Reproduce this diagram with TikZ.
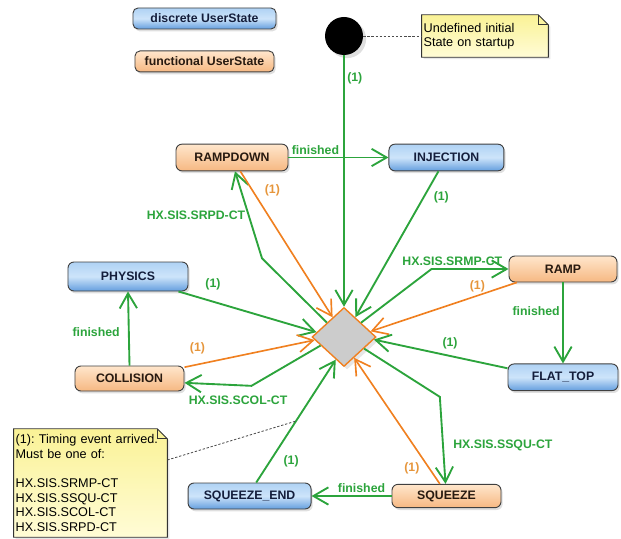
\documentclass[tikz,border=0pt]{standalone}
\usepackage{fontspec}
\setmainfont{Liberation Sans}
\usepackage{tikz}
\usetikzlibrary{arrows.meta,positioning,shapes.geometric,shadows,backgrounds}

\definecolor{trgreen}{RGB}{44,164,60}
\definecolor{trorange}{RGB}{240,128,32}
\definecolor{lborange}{RGB}{230,150,60}
\definecolor{bluetop}{RGB}{175,210,244}
\definecolor{bluemid}{RGB}{205,228,250}
\definecolor{bluebot}{RGB}{100,158,222}
\definecolor{orgtop}{RGB}{255,230,204}
\definecolor{orgbot}{RGB}{246,184,130}
\definecolor{notetop}{RGB}{250,242,150}
\definecolor{notebot}{RGB}{255,252,214}
\definecolor{navy}{RGB}{20,30,60}
\definecolor{darkbrown}{RGB}{40,26,16}

\begin{document}
\begin{tikzpicture}[x=0.03cm, y=-0.03cm, font=\fontsize{10.5}{12}\selectfont\bfseries,
  ustate/.style={draw=black!75, line width=0.8pt, rounded corners=1.8mm, minimum height=0.8cm, inner sep=2pt,
    drop shadow={opacity=0.25, shadow xshift=0.5mm, shadow yshift=-0.7mm}},
  discr/.style={ustate, top color=bluetop, bottom color=bluebot, middle color=bluemid, text=navy},
  func/.style={ustate, top color=orgtop, bottom color=orgbot, text=darkbrown},
  gr/.style={draw=trgreen, line width=1.6pt, -{Straight Barb[length=4.5mm, width=5.2mm]}},
  og/.style={draw=trorange, line width=1.4pt, -{Straight Barb[length=4.5mm, width=5.2mm]}},
  glab/.style={text=trgreen, inner sep=2pt},
  olab/.style={text=lborange, inner sep=2pt},
  notetext/.style={font=\fontsize{10.8}{12.4}\selectfont\mdseries\frenchspacing, align=left, inner sep=1.5pt},
  notefill/.style={draw=black!80, line width=0.8pt, top color=notetop, bottom color=notebot,
    drop shadow={opacity=0.2, shadow xshift=0.6mm, shadow yshift=-0.6mm}},
  notelink/.style={draw=black!70, line width=0.7pt, dash pattern=on 2pt off 1.5pt}
]
\useasboundingbox (0,0) rectangle (621,539);

% legend
\node[discr, minimum width=4.29cm, minimum height=0.63cm, rounded corners=1.5mm] (leg1) at (204.5,18.5) {discrete UserState};
\node[func, minimum width=4.17cm, minimum height=0.63cm, rounded corners=1.5mm, below=0.63cm of leg1] (leg2) {functional UserState};

% initial state and notes
\node[circle, fill=black, minimum size=1.14cm, inner sep=0pt, drop shadow={opacity=0.25}] (init) at (344,36) {};
\node[notetext, text width=3.68cm, minimum height=1.26cm] (n1) at (485,36) {Undefined initial\\State on startup};
\node[notetext, text width=4.49cm, minimum height=3.24cm] (n2) at (90.5,483) {(1): Timing event arrived.\\Must be one of:\\\mbox{}\\HX.SIS.SRMP-CT\\HX.SIS.SSQU-CT\\HX.SIS.SCOL-CT\\HX.SIS.SRPD-CT};
\begin{scope}[on background layer]
\path[notefill] (n1.south west) -- (n1.north west) -- ([xshift=-0.3cm]n1.north east) -- ([yshift=-0.3cm]n1.north east) -- (n1.south east) -- cycle;
\path[notefill] (n2.south west) -- (n2.north west) -- ([xshift=-0.3cm]n2.north east) -- ([yshift=-0.3cm]n2.north east) -- (n2.south east) -- cycle;
\end{scope}
\draw[black!80, line width=0.6pt] ([xshift=-0.3cm]n1.north east) |- ([yshift=-0.3cm]n1.north east);
\draw[black!80, line width=0.6pt] ([xshift=-0.3cm]n2.north east) |- ([yshift=-0.3cm]n2.north east);

% states
\node[diamond, draw=trorange, line width=1.2pt, fill=black!20, minimum width=1.92cm, minimum height=1.77cm, inner sep=0pt, drop shadow={opacity=0.2}] (dia) at (344,337) {};
\node[func, minimum width=3.36cm] (rd) at (232,157.5) {RAMPDOWN};
\node[discr, minimum width=3.45cm, right=3cm of rd] (inj) {INJECTION};
\node[discr, minimum width=3.6cm, minimum height=0.87cm] (phys) at (128,276.5) {PHYSICS};
\node[func, minimum width=3.27cm, minimum height=0.75cm] (coll) at (129.5,378.5) {COLLISION};
\node[func, minimum width=3.24cm, minimum height=0.78cm] (ramp) at (563,269) {RAMP};
\node[discr, minimum width=3.3cm, below=2.43cm of ramp] (flat) {FLAT\_TOP};
\node[func, minimum width=3.27cm, minimum height=0.7cm] (sq) at (446.5,496) {SQUEEZE};
\node[discr, minimum width=3.69cm, minimum height=0.78cm, left=2.4cm of sq] (sqe) {SQUEEZE\_END};

% transitions
\draw[notelink] (init.east) -- (n1.west);
\draw[gr] (init) -- node[glab, pos=0.09, right] {(1)} (dia.north);
\draw[gr] (rd.east) -- node[glab, pos=0.27, above] {finished} (inj.west);
\draw[gr] ([xshift=-0.24cm]inj.south) -- node[glab, pos=0.18, right=6pt] {(1)} (dia);
\draw[gr] (dia.140) -- ([shift={(0.9cm,-2.61cm)}]rd.south) -- node[glab, left] {HX.SIS.SRPD-CT} ([xshift=0.09cm]rd.south);
\draw[og] ([xshift=0.25cm]rd.south) -- node[olab, pos=0.13, right=8pt] {(1)} (dia.120);
\draw[gr] (dia.40) -- ([xshift=-2.31cm]ramp.west) -- node[glab, pos=0.27, above] {HX.SIS.SRMP-CT} (ramp.west);
\draw[og] ([xshift=0.25cm]ramp.south west) -- node[olab, pos=0.27, above] {(1)} (dia.12);
\draw[gr] (ramp.south) -- node[glab, pos=0.35, left] {finished} (flat.north);
\draw[gr] ([yshift=0.27cm]flat.west) -- node[glab, pos=0.43, above=3pt] {(1)} (dia.-5);
\draw[gr] ([xshift=-0.3cm]phys.south east) -- node[glab, pos=0.25, above=7pt] {(1)} (dia.170);
\draw[gr] (coll.north) -- node[glab, pos=0.45, left=5pt] {finished} (phys.south);
\draw[og] ([yshift=-0.05cm]coll.north east) -- node[olab, pos=0.1, above=6pt] {(1)} (dia.186);
\draw[gr] (dia.200) -- ([shift={(2.01cm,-0.22cm)}]coll.east) -- node[glab, pos=0.2, below=6pt] {HX.SIS.SCOL-CT} ([yshift=-0.13cm]coll.east);
\draw[gr] (dia.-30) -- ([shift={(-0.2cm,2.61cm)}]sq.north) -- node[glab, pos=0.56, right=6pt] {HX.SIS.SSQU-CT} ([xshift=-0.03cm]sq.north);
\draw[og] ([xshift=-0.2cm]sq.north) -- node[olab, pos=0.12, left=6pt] {(1)} (dia.-64);
\draw[gr] (sq.west) -- node[glab, pos=0.375, above] {finished} (sqe.east);
\draw[gr] ([xshift=0.2cm]sqe.north) -- node[glab, pos=0.17, right=9pt] {(1)} coordinate[pos=0.5] (tp) (dia.-110);
\draw[notelink] ([yshift=0.69cm]n2.east) -- (tp);
\end{tikzpicture}
\end{document}
